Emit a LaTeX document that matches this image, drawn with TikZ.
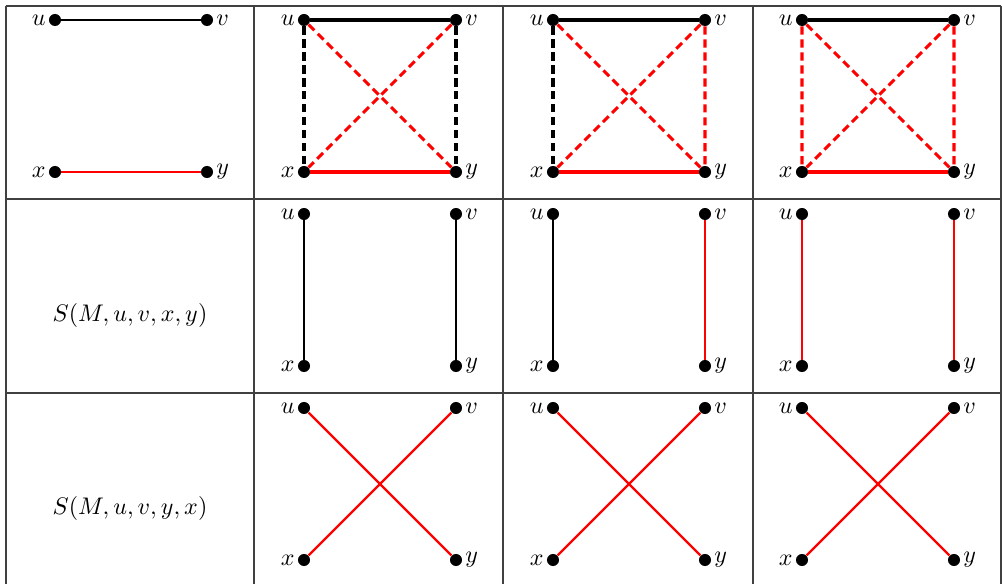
\documentclass[tikz,border=0pt]{standalone}
\usepackage{amsmath}
\usetikzlibrary{positioning}

\begin{document}
\begin{tikzpicture}[x=0.01464cm, y=-0.01464cm,
    vtx/.style={circle, fill=black, inner sep=0pt, minimum size=5pt},
    every label/.style={inner sep=1pt},
    grid/.style={line width=0.45pt, black!75},
    kept/.style={line width=0.9pt},
    boldkept/.style={line width=1.3pt},
    gone/.style={line width=1.3pt, dash pattern=on 3.4pt off 2pt}]
    \useasboundingbox (0,0) rectangle (1002,584);

    % table
    \foreach \gy in {6,199,393}
        \draw[grid] (6,\gy) -- (1001,\gy);
    \foreach \gx in {6,254,503,753,1001}
        \draw[grid] (\gx,6) -- (\gx,584);

    % the four vertices of every small graph
    \foreach \c/\r in {1/1,2/1,3/1,4/1,2/2,3/2,4/2,2/3,3/3,4/3} {
        \pgfmathsetmacro{\cx}{55+249*(\c-1)}
        \pgfmathsetmacro{\ry}{20+194*(\r-1)}
        \node[vtx, label=left:$u$] (u\c\r) at (\cx,\ry) {};
        \node[vtx, label=right:$v$] (v\c\r) at (\cx+152,\ry) {};
        \node[vtx, label=left:$x$] (x\c\r) at (\cx,\ry+152) {};
        \node[vtx, label=right:$y$] (y\c\r) at (\cx+152,\ry+152) {};
    }

    \node (swap1) at (130,315) {$S(M,u,v,x,y)$};
    \node (swap2) at (130,508) {$S(M,u,v,y,x)$};

    % first row
    \draw[kept] (u11) -- (v11);
    \draw[kept, red] (x11) -- (y11);

    \draw[boldkept] (u21) -- (v21);
    \draw[boldkept, red] (x21) -- (y21);
    \draw[gone] (u21) -- (x21) (v21) -- (y21);
    \draw[gone, red] (u21) -- (y21) (v21) -- (x21);

    \draw[boldkept] (u31) -- (v31);
    \draw[boldkept, red] (x31) -- (y31);
    \draw[gone] (u31) -- (x31);
    \draw[gone, red] (v31) -- (y31) (u31) -- (y31) (v31) -- (x31);

    \draw[boldkept] (u41) -- (v41);
    \draw[boldkept, red] (x41) -- (y41);
    \draw[gone, red] (u41) -- (x41) (v41) -- (y41) (u41) -- (y41) (v41) -- (x41);

    % second row
    \draw[kept] (u22) -- (x22) (v22) -- (y22);
    \draw[kept] (u32) -- (x32);
    \draw[kept, red] (v32) -- (y32);
    \draw[kept, red] (u42) -- (x42) (v42) -- (y42);

    % third row
    \foreach \c in {2,3,4}
        \draw[kept, red] (u\c3) -- (y\c3) (v\c3) -- (x\c3);
\end{tikzpicture}
\end{document}
